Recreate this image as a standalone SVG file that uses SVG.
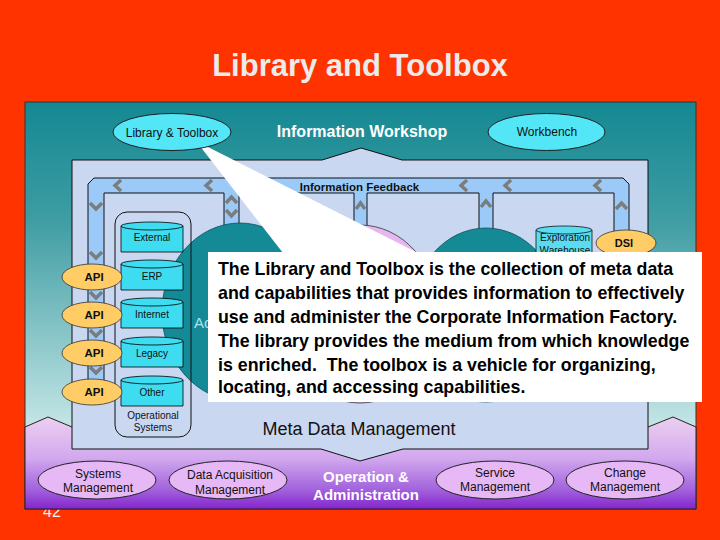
<svg xmlns="http://www.w3.org/2000/svg" width="720" height="540" viewBox="0 0 720 540">
<defs>
<linearGradient id="panelG" gradientUnits="userSpaceOnUse" x1="0" y1="102" x2="0" y2="440">
<stop offset="0" stop-color="#148892"/>
<stop offset="0.35" stop-color="#3F9DA3"/>
<stop offset="1" stop-color="#CDEAEA"/>
</linearGradient>
<linearGradient id="bandG" gradientUnits="userSpaceOnUse" x1="0" y1="417" x2="0" y2="509">
<stop offset="0" stop-color="#ECD0F0"/>
<stop offset="0.45" stop-color="#D2A8EE"/>
<stop offset="0.8" stop-color="#A060DC"/>
<stop offset="1" stop-color="#8424CC"/>
</linearGradient>
<style>
.t{font-family:"Liberation Sans",Arial,sans-serif;}
.b{font-weight:bold;}
.cyl{fill:#3EDCF0;stroke:#000;stroke-width:0.8;}
.cyltop{fill:none;stroke:#000;stroke-width:0.8;}
.api{fill:#FFCC66;stroke:#333;stroke-width:0.8;}
.ell{fill:#52E6F6;stroke:#222;stroke-width:1;}
.pell{fill:#E6B8F6;stroke:#222;stroke-width:1;}
.chev{fill:none;stroke:#7c7c7c;stroke-width:3.5;stroke-linejoin:miter;}
.lbl{font-size:10px;fill:#111;text-anchor:middle;}
.mid{text-anchor:middle;}
</style>
</defs>
<rect x="0" y="0" width="720" height="540" fill="#FF3300"/>
<text class="t" x="43" y="517" font-size="16" fill="#F2F2F2">42</text>
<text class="t b mid" x="360" y="76" font-size="31" fill="#EBEBEB">Library and Toolbox</text>

<g id="panel">
<rect x="25" y="102" width="671" height="407" fill="url(#panelG)" stroke="#333" stroke-width="1"/>
<polygon points="25,427 48,417 72,427 648,427 673,417 696,427 696,509 25,509" fill="url(#bandG)" stroke="#222" stroke-width="1"/>
</g>

<g id="metadata">
<polygon points="72,160 322,160 361,148 402,160 648,160 648,449 403,449 360,461 321,449 72,449" fill="#CAD7F1" stroke="#111" stroke-width="1"/>
<text class="t mid" x="359" y="435" font-size="18" fill="#111">Meta Data Management</text>
</g>

<g id="connectors">
<path d="M88,398 V184 L94,178 H623 L629,184 V232 H614 V193 H493 V234 H479 V193 H367 V230 H354 V193 H239 V228 H224 V193 H104 V398 Z" fill="#9CCAF8" stroke="#111" stroke-width="1"/>
<polyline class="chev" points="121,180 115,185.5 121,191"/>
<polyline class="chev" points="212,180 206,185.5 212,191"/>
<polyline class="chev" points="467,180 461,185.5 467,191"/>
<polyline class="chev" points="511,180 505,185.5 511,191"/>
<polyline class="chev" points="601,180 595,185.5 601,191"/>
<polyline class="chev" points="90,203 96,209 102,203"/>
<polyline class="chev" points="90,252 96,258 102,252"/>
<polyline class="chev" points="90,292 96,298 102,292"/>
<polyline class="chev" points="90,330 96,336 102,330"/>
<polyline class="chev" points="90,367 96,373 102,367"/>
<polyline class="chev" points="226,203 231.5,197 237,203"/>
<polyline class="chev" points="226,210 231.5,216 237,210"/>
<polyline class="chev" points="356,209 360.5,203 365,209"/>
<polyline class="chev" points="481,207 486,201 491,207"/>
<polyline class="chev" points="616,209 621.5,203 627,209"/>
<text class="t b mid" x="359.5" y="191" font-size="11.5" fill="#111">Information Feedback</text>
</g>

<g id="acquisition">
<ellipse cx="240" cy="312" rx="78" ry="89" fill="#138A96" stroke="#0B4F56" stroke-width="0.8"/>
<text class="t" x="194" y="328" font-size="15" fill="#A8E4F0">Ac</text>
</g>
<g id="circle2">
<ellipse cx="360" cy="314" rx="78" ry="89" fill="#E6B6F0" stroke="#333" stroke-width="0.8"/>
</g>
<g id="circle3">
<ellipse cx="486" cy="315" rx="75" ry="87" fill="#138A96" stroke="#0B4F56" stroke-width="0.8"/>
</g>

<g id="operational">
<rect x="115" y="212" width="76" height="225" rx="12" fill="none" stroke="#111" stroke-width="1"/>
<text class="t lbl" x="153" y="419" font-size="10.5">Operational</text>
<text class="t lbl" x="153" y="431" font-size="10.5">Systems</text>
</g>
<g id="external">
<path class="cyl" d="M121,226 A31,4 0 0 1 183,226 V252 H121 Z"/>
<path class="cyltop" d="M121,226 A31,4 0 0 0 183,226"/>
<text class="t lbl" x="152" y="241">External</text>
</g>
<g id="erp">
<path class="cyl" d="M121,264 A31,4 0 0 1 183,264 V290 H121 Z"/>
<path class="cyltop" d="M121,264 A31,4 0 0 0 183,264"/>
<text class="t lbl" x="152" y="280">ERP</text>
</g>
<g id="internet">
<path class="cyl" d="M121,302 A31,4 0 0 1 183,302 V328 H121 Z"/>
<path class="cyltop" d="M121,302 A31,4 0 0 0 183,302"/>
<text class="t lbl" x="152" y="318">Internet</text>
</g>
<g id="legacy">
<path class="cyl" d="M121,341 A31,4 0 0 1 183,341 V367 H121 Z"/>
<path class="cyltop" d="M121,341 A31,4 0 0 0 183,341"/>
<text class="t lbl" x="152" y="357">Legacy</text>
</g>
<g id="other">
<path class="cyl" d="M121,380 A31,4 0 0 1 183,380 V406 H121 Z"/>
<path class="cyltop" d="M121,380 A31,4 0 0 0 183,380"/>
<text class="t lbl" x="152" y="396">Other</text>
</g>
<g id="api1"><ellipse class="api" cx="92" cy="277" rx="30" ry="13"/><text class="t b mid" x="94" y="281" font-size="11.5" fill="#111">API</text></g>
<g id="api2"><ellipse class="api" cx="92" cy="315" rx="30" ry="13"/><text class="t b mid" x="94" y="319" font-size="11.5" fill="#111">API</text></g>
<g id="api3"><ellipse class="api" cx="92" cy="353" rx="30" ry="13"/><text class="t b mid" x="94" y="357" font-size="11.5" fill="#111">API</text></g>
<g id="api4"><ellipse class="api" cx="92" cy="392" rx="30" ry="13"/><text class="t b mid" x="94" y="396" font-size="11.5" fill="#111">API</text></g>

<g id="exploration">
<path d="M536,230 A28,4 0 0 1 592,230 V290 H536 Z" fill="#5ADCF0" stroke="#111" stroke-width="0.8"/>
<path d="M536,230 A28,4 0 0 0 592,230" fill="none" stroke="#111" stroke-width="0.8"/>
<text class="t lbl" x="565" y="241">Exploration</text>
<text class="t lbl" x="565" y="254">Warehouse</text>
</g>
<g id="dsi">
<ellipse class="api" cx="626" cy="243" rx="30" ry="13"/>
<text class="t b mid" x="624" y="247" font-size="11" fill="#111">DSI</text>
</g>

<g id="callout">
<polygon points="196,141 283,253 418,253" fill="#FFFFFF"/>
<rect x="208" y="252" width="494" height="150" fill="#FFFFFF"/>
<text class="t b" font-size="17.8" fill="#000">
<tspan x="218" y="275">The Library and Toolbox is the collection of meta data</tspan>
<tspan x="218" y="299">and capabilities that provides information to effectively</tspan>
<tspan x="218" y="323">use and administer the Corporate Information Factory.</tspan>
<tspan x="218" y="347">The library provides the medium from which knowledge</tspan>
<tspan x="218" y="371">is enriched.&#160; The toolbox is a vehicle for organizing,</tspan>
<tspan x="218" y="393">locating, and accessing capabilities.</tspan>
</text>
</g>

<g id="workshop">
<text class="t b mid" x="362" y="137" font-size="16" fill="#FFFFFF">Information Workshop</text>
</g>
<g id="library">
<ellipse class="ell" cx="172" cy="132" rx="59" ry="18.5"/>
<text class="t mid" x="172" y="137" font-size="12" fill="#111">Library &amp; Toolbox</text>
</g>
<g id="workbench">
<ellipse class="ell" cx="546.5" cy="132" rx="58.5" ry="18.5"/>
<text class="t mid" x="547" y="136" font-size="12" fill="#111">Workbench</text>
</g>

<g id="systems">
<ellipse class="pell" cx="97" cy="480" rx="59" ry="19"/>
<text class="t mid" x="98" y="478" font-size="12" fill="#111">Systems</text>
<text class="t mid" x="98" y="492" font-size="12" fill="#111">Management</text>
</g>
<g id="dataacq">
<ellipse class="pell" cx="228" cy="480" rx="59" ry="19"/>
<text class="t mid" x="230" y="479" font-size="12" fill="#111">Data Acquisition</text>
<text class="t mid" x="230" y="494" font-size="12" fill="#111">Management</text>
</g>
<g id="opadmin">
<text class="t b mid" x="366" y="482" font-size="15" fill="#FFFFFF">Operation &amp;</text>
<text class="t b mid" x="366" y="500" font-size="15" fill="#FFFFFF">Administration</text>
</g>
<g id="service">
<ellipse class="pell" cx="495" cy="480" rx="59" ry="19"/>
<text class="t mid" x="495" y="477" font-size="12" fill="#111">Service</text>
<text class="t mid" x="495" y="491" font-size="12" fill="#111">Management</text>
</g>
<g id="change">
<ellipse class="pell" cx="625" cy="480" rx="59" ry="19"/>
<text class="t mid" x="625" y="477" font-size="12" fill="#111">Change</text>
<text class="t mid" x="625" y="491" font-size="12" fill="#111">Management</text>
</g>
</svg>
